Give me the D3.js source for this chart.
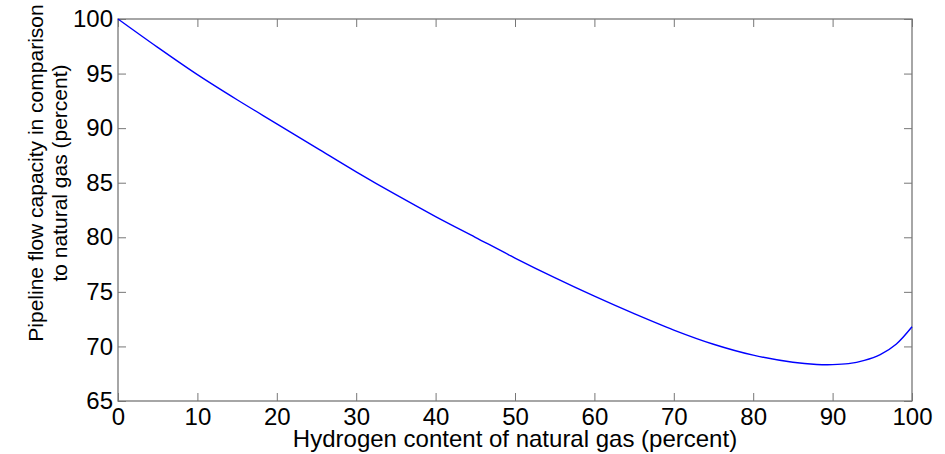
<!DOCTYPE html>
<html>
<head>
<meta charset="utf-8">
<script src="https://cdn.jsdelivr.net/npm/d3@7"></script>
<style>
  body { margin: 0; background: #fff; }
  text { font-family: Arial, "Liberation Sans", sans-serif; fill: #000; }
</style>
</head>
<body>
<svg id="chart" width="945" height="454"></svg>
<script>
// hydrogen share (%) vs relative flow capacity (%)
var hydrogen = [0, 5, 10, 15, 20, 25, 30, 35, 40, 45, 50, 55, 60, 65, 70, 75, 80, 85, 88, 90, 92, 94, 96, 98, 100];
var capacity = [100, 97.4, 94.9, 92.6, 90.4, 88.2, 86.0, 83.9, 81.9, 80.0, 78.1, 76.3, 74.6, 73.0, 71.5, 70.2, 69.2, 68.55, 68.35, 68.33, 68.42, 68.72, 69.25, 70.2, 71.8];
var xTicks = [0, 10, 20, 30, 40, 50, 60, 70, 80, 90, 100];
var yTicks = [65, 70, 75, 80, 85, 90, 95, 100];

var svg = d3.select("#chart");
var margin = { top: 19, right: 33, bottom: 53, left: 118 };
var width = +svg.attr("width") - margin.left - margin.right;
var height = +svg.attr("height") - margin.top - margin.bottom;
var g = svg.append("g").attr("transform", "translate(" + margin.left + "," + margin.top + ")");

var x = d3.scaleLinear().domain([0, 100]).range([0, width]);
var y = d3.scaleLinear().domain([65, 100]).range([height, 0]);
var axisColor = "#777";
var tickLen = 8;

// inward ticks on all four sides, labels only on bottom/left
function styleAxis(sel) {
  sel.select(".domain").remove();
  sel.selectAll("line").attr("stroke", axisColor);
  sel.selectAll("text").style("font-size", "24px").attr("fill", "#000");
}

g.append("g")
  .attr("transform", "translate(0," + height + ")")
  .call(d3.axisBottom(x).tickValues(xTicks).tickSize(-tickLen).tickPadding(7))
  .call(styleAxis);
g.append("g")
  .call(d3.axisTop(x).tickValues(xTicks).tickSize(-tickLen).tickFormat(""))
  .call(styleAxis);
g.append("g")
  .call(d3.axisLeft(y).tickValues(yTicks).tickSize(-tickLen).tickPadding(5))
  .call(styleAxis);
g.append("g")
  .attr("transform", "translate(" + width + ",0)")
  .call(d3.axisRight(y).tickValues(yTicks).tickSize(-tickLen).tickFormat(""))
  .call(styleAxis);

g.append("rect")
  .attr("width", width)
  .attr("height", height)
  .attr("fill", "none")
  .attr("stroke", axisColor)
  .attr("stroke-width", 1.3);

var line = d3.line()
  .x(function (d, i) { return x(hydrogen[i]); })
  .y(function (d) { return y(d); })
  .curve(d3.curveCatmullRom);

g.append("path")
  .datum(capacity)
  .attr("d", line)
  .attr("fill", "none")
  .attr("stroke", "#0000ff")
  .attr("stroke-width", 1.4);

svg.append("text")
  .attr("x", margin.left + width / 2)
  .attr("y", 447)
  .attr("text-anchor", "middle")
  .style("font-size", "24px")
  .text("Hydrogen content of natural gas (percent)");

var yl = svg.append("text")
  .attr("transform", "translate(43,173) rotate(-90)")
  .attr("text-anchor", "middle")
  .style("font-size", "21px");
yl.append("tspan").attr("x", 0).attr("dy", 0).text("Pipeline flow capacity in comparison");
yl.append("tspan").attr("x", 0).attr("dy", 24).text("to natural gas (percent)");
</script>
</body>
</html>
